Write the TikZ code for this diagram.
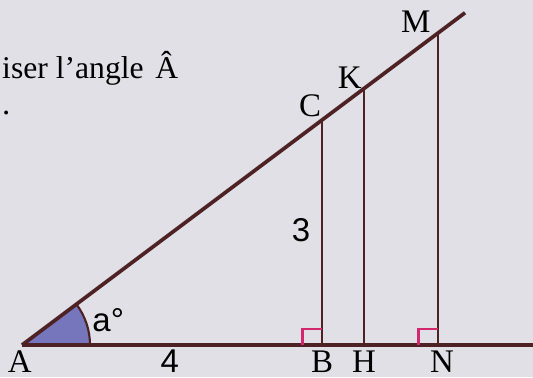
\documentclass[tikz,border=0pt]{standalone}
\usepackage{fontspec}
\setmainfont{Liberation Serif}
\newfontfamily\digitfont{Liberation Sans}
\usetikzlibrary{positioning,calc}
\definecolor{paper}{RGB}{224,224,230}
\definecolor{inkline}{RGB}{78,34,36}
\definecolor{anglefill}{RGB}{118,118,188}
\definecolor{rightmark}{RGB}{212,40,110}

\begin{document}
\begin{tikzpicture}[
    pointlabel/.style={font=\fontsize{12.5}{14}\selectfont, inner sep=0pt},
    numlabel/.style={font=\digitfont\fontsize{12.5}{15}\selectfont, inner sep=0pt},
    mainline/.style={draw=inkline, line width=1.4pt},
    vertline/.style={draw=inkline, line width=1.1pt},
    rightangle/.style={draw=rightmark, line width=0.9pt}
]

% page and size
\fill[paper] (-0.293,-0.427) rectangle (6.813,4.6);
\useasboundingbox (-0.293,-0.427) rectangle (6.813,4.6);

\coordinate (A) at (0,0);
\coordinate (B) at (4,0);
\coordinate (C) at (4,3);
\coordinate (H) at (4.56,0);
\coordinate (K) at (4.56,3.42);
\coordinate (N) at (5.547,0);
\coordinate (M) at (5.547,4.16);
\coordinate (baseend) at (6.813,0);
\coordinate (slopeend) at (5.907,4.43);

% angle at A
\fill[anglefill] (A) -- (0.907,0) arc[start angle=0, end angle=36.87, radius=0.907] -- cycle;
\draw[inkline, line width=0.8pt] (0.907,0) arc[start angle=0, end angle=36.87, radius=0.907];

\draw[mainline] (A) -- (baseend);
\draw[mainline] (A) -- (slopeend);
\draw[vertline] (B) -- (C);
\draw[vertline] (H) -- (K);
\draw[vertline] (N) -- (M);

% right angles
\draw[rightangle] ($(B)+(-0.26,0)$) -- ++(0,0.21) -- ($(B)+(0,0.21)$);
\draw[rightangle] ($(N)+(-0.26,0)$) -- ++(0,0.21) -- ($(N)+(0,0.21)$);

\node[pointlabel] (lA) at (-0.03,-0.22) {A};
\node[pointlabel] (lB) at (4.0,-0.22) {B};
\node[pointlabel] (lH) at (4.56,-0.22) {H};
\node[pointlabel] (lN) at (5.6,-0.22) {N};
\node[pointlabel] (lC) at (3.84,3.19) {C};
\node[pointlabel] (lK) at (4.37,3.57) {K};
\node[pointlabel] (lM) at (5.25,4.31) {M};
\node[numlabel] (l4) at (1.97,-0.21) {4};
\node[numlabel] (l3) at (3.72,1.53) {3};
\node[numlabel] (la) at (1.15,0.33) {a°};

\node[pointlabel, anchor=base west, font=\fontsize{12}{14}\selectfont] (txt1) at (-0.27,3.55) {iser l’angle\hspace{0.12em} \^A};
\node[pointlabel, anchor=base west] (txt2) at (-0.27,3.08) {.};
\end{tikzpicture}
\end{document}
